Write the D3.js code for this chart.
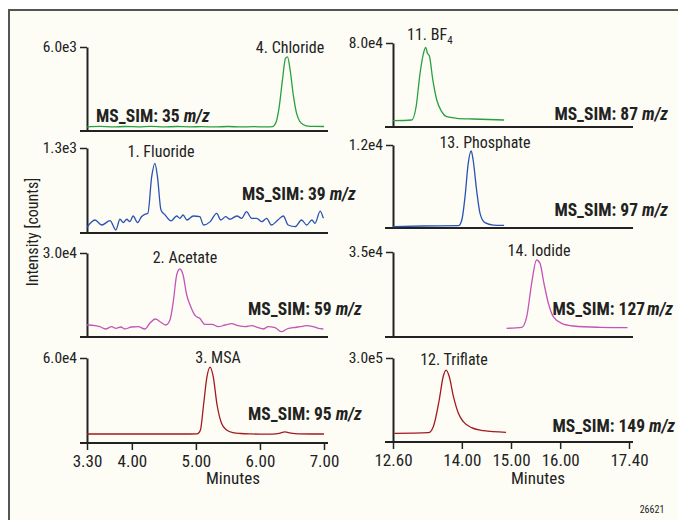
<!DOCTYPE html>
<html>
<head>
<meta charset="utf-8">
<script src="https://cdn.jsdelivr.net/npm/d3@7"></script>
<style>
  body { margin: 0; background: #fff; }
  text { font-family: 'Liberation Sans Narrow', 'Roboto Condensed', 'DejaVu Sans Condensed', sans-serif; fill: #222; }
</style>
</head>
<body>
<svg id="chart" width="678" height="520"></svg>
<script>
/* global d3 */

// retention time [min], counts
const chloride = [[3.30, 300], [3.50, 330], [3.70, 290], [3.90, 320], [4.10, 300], [4.30, 330], [4.50, 290], [4.70, 320],
  [4.90, 300], [5.10, 310], [5.30, 290], [5.50, 320], [5.70, 290], [5.90, 310], [6.10, 290], [6.20, 320], [6.25, 600],
  [6.30, 1700], [6.35, 3600], [6.40, 5200], [6.43, 5290], [6.47, 4400], [6.52, 2600], [6.57, 1300], [6.62, 700],
  [6.68, 450], [6.75, 350], [6.85, 330], [7.00, 320]]
const fluoride = [[3.30, 87], [3.425, 199], [3.53, 122], [3.66, 188], [3.75, 46], [3.815, 210], [3.867, 158], [3.92, 210],
  [3.97, 173], [4.02, 260], [4.09, 158], [4.15, 249], [4.205, 286], [4.25, 301], [4.31, 861], [4.36, 1066], [4.40, 861],
  [4.455, 352], [4.52, 275], [4.61, 184], [4.70, 260], [4.75, 225], [4.80, 275], [4.86, 199], [4.96, 260], [5.06, 249],
  [5.12, 122], [5.22, 170], [5.325, 301], [5.39, 199], [5.465, 249], [5.53, 210], [5.64, 260], [5.715, 225], [5.79, 326],
  [5.87, 225], [5.95, 225], [6.03, 173], [6.105, 225], [6.18, 122], [6.28, 199], [6.365, 260], [6.44, 122], [6.55, 96],
  [6.65, 199], [6.73, 122], [6.81, 199], [6.86, 148], [6.94, 336], [6.99, 225]]
const acetate = [[3.30, 4286], [3.425, 4036], [3.50, 3679], [3.59, 2857], [3.685, 3679], [3.75, 3107], [3.83, 3571],
  [3.89, 2857], [3.995, 3571], [4.10, 3679], [4.205, 2857], [4.28, 4893], [4.37, 6429], [4.44, 5464], [4.53, 4286],
  [4.595, 6071], [4.647, 12607], [4.70, 22143], [4.75, 24286], [4.80, 22143], [4.857, 15000], [4.92, 10821],
  [4.99, 7607], [5.06, 6679], [5.14, 4536], [5.25, 4536], [5.35, 3679], [5.455, 4286], [5.56, 4750], [5.66, 4036],
  [5.77, 3679], [5.87, 4036], [5.975, 3321], [6.05, 2857], [6.13, 3679], [6.235, 3321], [6.34, 1893], [6.42, 2857],
  [6.52, 3321], [6.625, 3679], [6.73, 4036], [6.83, 3679], [6.91, 3107], [6.99, 2857]]
const msa = [[3.30, 6350], [3.60, 6350], [4.00, 6350], [4.40, 6350], [4.80, 6350], [5.02, 6500], [5.07, 9000],
  [5.12, 27000], [5.17, 46000], [5.22, 53600], [5.27, 47000], [5.33, 27000], [5.40, 14000], [5.48, 9200],
  [5.58, 7300], [5.70, 6700], [5.85, 6400], [6.00, 6300], [6.20, 6300], [6.30, 6800], [6.39, 7800], [6.48, 7000],
  [6.60, 6400], [6.80, 6350], [7.00, 6350]]
const bf4 = [[12.60, 6000], [12.98, 6670], [13.07, 19300], [13.15, 51100], [13.22, 70200], [13.265, 75900],
  [13.30, 70200], [13.34, 67600], [13.41, 44800], [13.49, 25700], [13.59, 14600], [13.69, 9800], [13.895, 8300],
  [14.23, 7600], [14.86, 6670]]
const phosphate = [[12.60, 190], [13.22, 290], [13.93, 330], [14.00, 1160], [14.065, 4530], [14.13, 9350],
  [14.19, 11130], [14.23, 9830], [14.30, 5490], [14.37, 2120], [14.47, 770], [14.64, 430], [14.86, 390]]
const iodide = [[14.91, 3580], [15.22, 3990], [15.32, 8360], [15.42, 22100], [15.52, 31700], [15.59, 30300],
  [15.67, 22100], [15.76, 13900], [15.86, 8360], [16.03, 5640], [16.27, 4530], [16.81, 3990], [17.37, 3830]]
const triflate = [[12.63, 31000], [13.32, 33300], [13.42, 54600], [13.54, 150000], [13.62, 233000], [13.68, 257000],
  [13.745, 233000], [13.83, 161800], [13.93, 102500], [14.03, 72500], [14.20, 51100], [14.44, 40400], [14.90, 34600]]

const leftTicks = [3.30, 4.00, 5.00, 6.00, 7.00]
const rightTicks = [12.60, 14.00, 15.00, 16.00, 17.40]
const peakNames = ['4. Chloride', '1. Fluoride', '2. Acetate', '3. MSA', '11. BF', '13. Phosphate', '14. Iodide', '12. Triflate']
const massLabels = ['35', '39', '59', '95', '87', '97', '127', '149']
const yMax = [6.0e3, 1.3e3, 3.0e4, 6.0e4, 8.0e4, 1.2e4, 3.5e4, 3.0e5]
const yMaxLabels = ['6.0e3', '1.3e3', '3.0e4', '6.0e4', '8.0e4', '1.2e4', '3.5e4', '3.0e5']

const colors = { green: '#27a040', blue: '#2a52b4', pink: '#c354b8', red: '#a3191f' }

// layout of each trace panel
const panels = [
  { data: chloride, col: 0, top: 47, base: 131, color: colors.green, name: [290, 53, 'middle'], ms: [96, 122, 'start'] },
  { data: fluoride, col: 0, top: 148, base: 233, color: colors.blue, name: [161, 157, 'middle'], ms: [242, 200, 'start'] },
  { data: acetate, col: 0, top: 253, base: 337, color: colors.pink, name: [185, 263, 'middle'], ms: [248, 315, 'start'] },
  { data: msa, col: 0, top: 358, base: 443, color: colors.red, name: [218, 363, 'middle'], ms: [248, 420, 'start'] },
  { data: bf4, col: 1, top: 43, base: 127, color: colors.green, name: [407, 40, 'start'], ms: [668, 120, 'end'] },
  { data: phosphate, col: 1, top: 145, base: 228, color: colors.blue, name: [485, 148, 'middle'], ms: [668, 216, 'end'] },
  { data: iodide, col: 1, top: 252, base: 337, color: colors.pink, name: [539, 256, 'middle'], ms: [673, 315, 'end'] },
  { data: triflate, col: 1, top: 358, base: 442, color: colors.red, name: [454, 365, 'middle'], ms: [675, 432, 'end'] }
]

const cols = [
  { x: d3.scaleLinear().domain([3.30, 7.00]).range([87, 324]), line: [80, 328], ticks: leftTicks, title: 233 },
  { x: d3.scaleLinear().domain([12.60, 17.40]).range([393, 629]), line: [385, 633], ticks: rightTicks, title: 538 }
]

const svg = d3.select('#chart')

svg.append('rect')
  .attr('x', 9)
  .attr('y', 10)
  .attr('width', 700)
  .attr('height', 540)
  .attr('fill', '#fdfdf6')
  .attr('stroke', '#555')
  .attr('stroke-width', 2)

panels.forEach(function (p, i) {
  let col = cols[p.col]
  let x = col.x
  let y = d3.scaleLinear().domain([0, yMax[i]]).range([p.base, p.top])
  let g = svg.append('g')

  // baseline
  g.append('line')
    .attr('x1', col.line[0])
    .attr('x2', col.line[1])
    .attr('y1', p.base)
    .attr('y2', p.base)
    .attr('stroke', '#222')
    .attr('stroke-width', 2)

  let yAxis = g.append('g')
    .attr('transform', 'translate(' + x.range()[0] + ',0)')
    .call(d3.axisLeft(y).tickValues([yMax[i]]).tickSize(7).tickSizeOuter(0)
      .tickFormat(function () { return yMaxLabels[i] }))
  yAxis.select('.domain').attr('stroke', '#222').attr('stroke-width', 2)
  yAxis.selectAll('.tick line').attr('stroke', '#222').attr('stroke-width', 1.5)
  yAxis.selectAll('.tick text')
    .attr('x', -10)
    .style('font-size', '15.5px')
    .style('font-family', null)
    .attr('fill', '#222')

  g.append('path')
    .datum(p.data)
    .attr('fill', 'none')
    .attr('stroke', p.color)
    .attr('stroke-width', 1.3)
    .attr('d', d3.line()
      .x(function (d) { return x(d[0]) })
      .y(function (d) { return y(d[1]) })
      .curve(d3.curveMonotoneX))

  let nm = g.append('text')
    .attr('x', p.name[0])
    .attr('y', p.name[1])
    .attr('text-anchor', p.name[2])
    .style('font-size', '16px')
    .text(peakNames[i])
  if (i === 4) {
    nm.append('tspan').attr('dy', 4).style('font-size', '11px').text('4')
  }

  let ms = g.append('text')
    .attr('x', p.ms[0])
    .attr('y', p.ms[1])
    .attr('text-anchor', p.ms[2])
    .style('font-size', '17.5px')
    .style('font-weight', 'bold')
    .text('MS_SIM: ' + massLabels[i] + (i === 6 ? '' : ' '))
  ms.append('tspan')
    .attr('dx', i === 6 ? 2 : 0)
    .style('font-style', 'italic')
    .text('m/z')

  // time axis under the last panel of each column
  if (i === 3 || i === 7) {
    let xAxis = g.append('g')
      .attr('transform', 'translate(0,' + p.base + ')')
      .call(d3.axisBottom(x).tickValues(col.ticks).tickSize(7).tickSizeOuter(0).tickFormat(d3.format('.2f')))
    xAxis.select('.domain').remove()
    xAxis.selectAll('.tick line').attr('stroke', '#222').attr('stroke-width', 1.5)
    xAxis.selectAll('.tick text')
      .attr('y', 12)
      .attr('dy', '0.71em')
      .style('font-size', '17px')
      .style('font-family', null)
      .attr('fill', '#222')
    g.append('text')
      .attr('x', col.title)
      .attr('y', 484)
      .attr('text-anchor', 'middle')
      .style('font-size', '17px')
      .text('Minutes')
  }
})

svg.append('text')
  .attr('transform', 'translate(38,232) rotate(-90)')
  .attr('text-anchor', 'middle')
  .style('font-size', '16px')
  .text('Intensity [counts]')

svg.append('text')
  .attr('x', 652)
  .attr('y', 513)
  .attr('text-anchor', 'middle')
  .style('font-size', '10px')
  .text('26621')
</script>
</body>
</html>
